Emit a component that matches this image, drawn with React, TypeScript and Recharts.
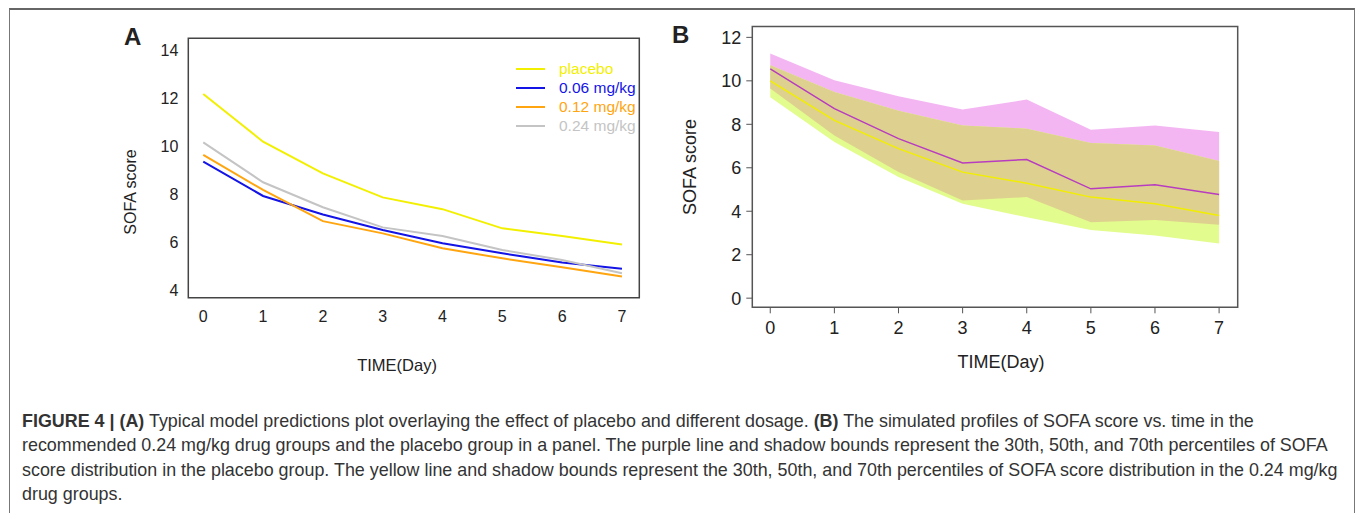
import React from 'react';
import { LineChart, ComposedChart, Line, Area, XAxis, YAxis, ReferenceArea } from 'recharts';

// day axis shared by both panels
const days = [0, 1, 2, 3, 4, 5, 6, 7];

// panel A: typical model predictions
const placebo = [12.17, 10.18, 8.86, 7.86, 7.37, 6.57, 6.25, 5.9];
const dose006 = [9.35, 7.92, 7.15, 6.5, 5.95, 5.53, 5.15, 4.89];
const dose012 = [9.63, 8.17, 6.87, 6.36, 5.74, 5.32, 4.95, 4.56];
const dose024 = [10.15, 8.49, 7.45, 6.61, 6.25, 5.67, 5.25, 4.7];
const yTicksA = [4, 6, 8, 10, 12, 14];

// panel B: simulated percentiles
const placeboP30 = [9.65, 7.49, 5.8, 4.49, 4.65, 3.49, 3.6, 3.38];
const placeboP50 = [10.55, 8.72, 7.34, 6.22, 6.38, 5.03, 5.22, 4.77];
const placeboP70 = [11.26, 10.03, 9.29, 8.68, 9.14, 7.75, 7.95, 7.65];
const drugP30 = [9.25, 7.18, 5.57, 4.34, 3.72, 3.14, 2.88, 2.52];
const drugP50 = [10.0, 8.18, 6.88, 5.8, 5.29, 4.65, 4.34, 3.8];
const drugP70 = [10.72, 9.49, 8.62, 7.95, 7.8, 7.14, 7.03, 6.31];
const yTicksB = [0, 2, 4, 6, 8, 10, 12];

const xDomA: [number, number] = [-0.25, 7.29];
const yDomA: [number, number] = [3.68, 14.49];
const xDomB: [number, number] = [-0.28, 7.29];
const yDomB: [number, number] = [-0.42, 12.5];

const seriesA = [
  { key: 'placebo', name: 'placebo', color: '#F2F000' },
  { key: 'd006', name: '0.06 mg/kg', color: '#1414E6' },
  { key: 'd012', name: '0.12 mg/kg', color: '#FFA510' },
  { key: 'd024', name: '0.24 mg/kg', color: '#C4C4C4' },
];

const dataA = days.map((d, i) => ({
  day: d,
  placebo: placebo[i],
  d006: dose006[i],
  d012: dose012[i],
  d024: dose024[i],
}));

const dataB = days.map((d, i) => ({
  day: d,
  pink: [placeboP30[i], placeboP70[i]],
  green: [drugP30[i], drugP70[i]],
  overlap: [Math.max(placeboP30[i], drugP30[i]), Math.min(placeboP70[i], drugP70[i])],
  p50: placeboP50[i],
  d50: drugP50[i],
}));

const abs = (left: number, top: number, extra: React.CSSProperties = {}): React.CSSProperties => ({
  position: 'absolute',
  left,
  top,
  whiteSpace: 'nowrap',
  ...extra,
});

const LegendA = () => (
  <div style={abs(516, 59, { fontSize: 15.5, lineHeight: '19px' })}>
    {seriesA.map((s) => (
      <div key={s.key} style={{ display: 'flex', alignItems: 'center' }}>
        <svg width={29} height={4} style={{ marginRight: 14 }}>
          <line x1={0} y1={2} x2={29} y2={2} stroke={s.color} strokeWidth={2} />
        </svg>
        <span style={{ color: s.color }}>{s.name}</span>
      </div>
    ))}
  </div>
);

export default function App() {
  return (
    <div
      style={{
        position: 'relative',
        width: 1355,
        height: 513,
        overflow: 'hidden',
        background: '#fff',
        fontFamily: '"Liberation Sans", Arial, sans-serif',
        color: '#222',
      }}
    >
      <style>{'html,body{margin:0;padding:0;overflow:hidden;background:#fff}'}</style>
      <div
        style={{
          position: 'absolute',
          left: 9,
          top: 8,
          width: 1344,
          height: 540,
          borderTop: '2px solid #666',
          borderLeft: '1px solid #777',
          borderRight: '1px solid #777',
        }}
      />

      {/* panel A */}
      <div style={abs(124, 25, { fontSize: 24, fontWeight: 700, lineHeight: '24px' })}>A</div>
      <div style={abs(0, 0)}>
        <LineChart width={700} height={400} data={dataA} margin={{ top: 38.3, right: 60.7, bottom: 42.3, left: 128.3 }}>
          <XAxis
            dataKey="day"
            type="number"
            domain={xDomA}
            ticks={days}
            allowDataOverflow
            height={60}
            tickLine={false}
            axisLine={false}
            tickSize={6}
            tickMargin={7}
            tick={{ fontSize: 16, fill: '#222' }}
          />
          <YAxis
            type="number"
            domain={yDomA}
            ticks={yTicksA}
            allowDataOverflow
            width={60}
            tickLine={false}
            axisLine={false}
            tickSize={6}
            tickMargin={4}
            tick={{ fontSize: 16, fill: '#222' }}
          />
          <ReferenceArea
            x1={xDomA[0]}
            x2={xDomA[1]}
            y1={yDomA[0]}
            y2={yDomA[1]}
            fill="none"
            stroke="#444"
            strokeWidth={1.5}
            ifOverflow="visible"
          />
          {seriesA.map((s) => (
            <Line
              key={s.key}
              dataKey={s.key}
              name={s.name}
              type="linear"
              stroke={s.color}
              strokeWidth={2}
              dot={false}
              isAnimationActive={false}
            />
          ))}
        </LineChart>
      </div>
      <LegendA />
      <div style={abs(131, 191.7, { fontSize: 16, transform: 'translate(-50%, -50%) rotate(-90deg)' })}>SOFA score</div>
      <div style={abs(397, 357, { fontSize: 16.5, lineHeight: '16px', transform: 'translateX(-50%)' })}>TIME(Day)</div>

      {/* panel B */}
      <div style={abs(672, 23, { fontSize: 24, fontWeight: 700, lineHeight: '24px' })}>B</div>
      <div style={abs(660, 0)}>
        <ComposedChart width={620} height={400} data={dataB} margin={{ top: 26.5, right: 42.3, bottom: 32.7, left: 42.3 }}>
          <XAxis
            dataKey="day"
            type="number"
            domain={xDomB}
            ticks={days}
            allowDataOverflow
            height={60}
            tickLine={{ stroke: '#555' }}
            axisLine={false}
            tickSize={6}
            tickMargin={8}
            tick={{ fontSize: 18, fill: '#222' }}
          />
          <YAxis
            type="number"
            domain={yDomB}
            ticks={yTicksB}
            allowDataOverflow
            width={50}
            tickLine={{ stroke: '#555' }}
            axisLine={false}
            tickSize={6}
            tickMargin={5}
            tick={{ fontSize: 18, fill: '#222' }}
          />
          <Area dataKey="pink" type="linear" stroke="none" fill="#F4B6F2" fillOpacity={1} isAnimationActive={false} />
          <Area dataKey="green" type="linear" stroke="none" fill="#E3FC8E" fillOpacity={1} isAnimationActive={false} />
          <Area dataKey="overlap" type="linear" stroke="none" fill="#DED18F" fillOpacity={1} isAnimationActive={false} />
          <Line dataKey="p50" type="linear" stroke="#B83CC0" strokeWidth={1.5} dot={false} isAnimationActive={false} />
          <Line dataKey="d50" type="linear" stroke="#F2EE00" strokeWidth={1.5} dot={false} isAnimationActive={false} />
          <ReferenceArea
            x1={xDomB[0]}
            x2={xDomB[1]}
            y1={yDomB[0]}
            y2={yDomB[1]}
            fill="none"
            stroke="#555"
            strokeWidth={1.5}
            ifOverflow="visible"
          />
        </ComposedChart>
      </div>
      <div style={abs(690, 166.7, { fontSize: 18, transform: 'translate(-50%, -50%) rotate(-90deg)' })}>SOFA score</div>
      <div style={abs(1001, 353, { fontSize: 18, lineHeight: '18px', transform: 'translateX(-50%)' })}>TIME(Day)</div>

      {/* caption */}
      <div style={abs(22, 409, { fontSize: 17.9, lineHeight: '24.4px', color: '#333' })}>
        <b>FIGURE 4 | (A)</b> Typical model predictions plot overlaying the effect of placebo and different dosage.{' '}
        <b>(B)</b> The simulated profiles of SOFA score vs. time in the
        <br />
        recommended 0.24 mg/kg drug groups and the placebo group in a panel. The purple line and shadow bounds represent the 30th, 50th, and 70th percentiles of SOFA
        <br />
        score distribution in the placebo group. The yellow line and shadow bounds represent the 30th, 50th, and 70th percentiles of SOFA score distribution in the 0.24 mg/kg
        <br />
        drug groups.
      </div>
    </div>
  );
}
